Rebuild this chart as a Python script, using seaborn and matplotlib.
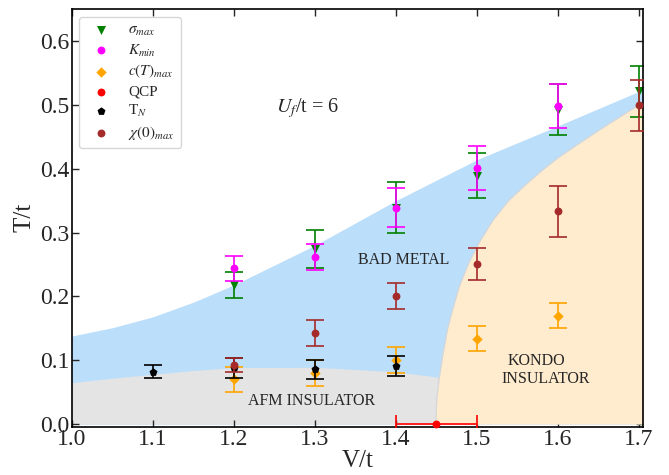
import numpy as np
import pandas as pd
import matplotlib
matplotlib.use("Agg")
import matplotlib.pyplot as plt
import seaborn as sns

# ---------------- data ----------------
sigma_V = [1.2, 1.3, 1.4, 1.5, 1.6, 1.7]
sigma_T = [0.218, 0.274, 0.339, 0.389, 0.492, 0.521]
sigma_err = [0.02, 0.03, 0.04, 0.035, 0.04, 0.04]

kmin_V = [1.2, 1.3, 1.4, 1.5, 1.6]
kmin_T = [0.244, 0.262, 0.339, 0.401, 0.498]
kmin_err = [0.02, 0.02, 0.03, 0.035, 0.035]

cT_V = [1.2, 1.3, 1.4, 1.5, 1.6]
cT_T = [0.070, 0.080, 0.100, 0.134, 0.170]
cT_err = [0.02, 0.02, 0.02, 0.02, 0.02]

qcp_V = [1.45]
qcp_T = [0.0]
qcp_xerr = [0.05]

TN_V = [1.1, 1.2, 1.3, 1.4]
TN_T = [0.082, 0.088, 0.086, 0.091]
TN_err = [0.01, 0.015, 0.015, 0.015]

chi_V = [1.2, 1.3, 1.4, 1.5, 1.6, 1.7]
chi_T = [0.092, 0.143, 0.201, 0.250, 0.333, 0.499]
chi_err = [0.011, 0.02, 0.02, 0.025, 0.04, 0.04]

# phase boundaries
metal_V = [0.99, 1.0, 1.05, 1.1, 1.15, 1.2, 1.3, 1.4, 1.5, 1.6, 1.7, 1.71]
metal_T = [0.136, 0.138, 0.151, 0.168, 0.191, 0.218, 0.280, 0.350, 0.414, 0.467, 0.521, 0.526]

afm_V = [0.99, 1.0, 1.05, 1.1, 1.15, 1.2, 1.3, 1.4, 1.455, 1.46]
afm_T = [0.064, 0.065, 0.072, 0.078, 0.084, 0.0885, 0.089, 0.082, 0.073, 0.0]

kondo_T = [0.0, 0.04, 0.075, 0.11, 0.148, 0.18, 0.215, 0.253, 0.285, 0.32, 0.35,
           0.375, 0.397, 0.417, 0.443, 0.468, 0.488, 0.50, 0.508]
kondo_V = [1.449, 1.4505, 1.4537, 1.458, 1.4635, 1.470, 1.478, 1.49, 1.503, 1.52, 1.539,
           1.56, 1.58, 1.60, 1.63, 1.66, 1.685, 1.70, 1.71]

# ---------------- style ----------------
sns.set_style("ticks")
plt.rcParams['font.family'] = ['Liberation Serif', 'DejaVu Serif']
plt.rcParams['mathtext.fontset'] = 'stix'

fig = plt.figure(figsize=(6.69, 4.75), dpi=100)
ax = fig.add_axes([0.1076, 0.1017, 0.8535, 0.8794])

# regions
ax.fill_between(metal_V, 0, metal_T, color='#bbdefb', lw=0, zorder=0)
ax.fill_between(afm_V, 0, afm_T, color='#e4e4e4', lw=0, zorder=0.5)
ax.fill_betweenx(kondo_T, kondo_V, 1.72, color='#ffebcd', lw=0, zorder=0.6)
ax.plot(kondo_V, kondo_T, color='#d6d6d6', lw=0.8, zorder=0.7)

cap = 6.5
series = [
    (sigma_V, sigma_T, sigma_err, None, 'v', 'green', r'$\sigma_{max}$'),
    (kmin_V, kmin_T, kmin_err, None, 'o', 'magenta', r'$K_{min}$'),
    (cT_V, cT_T, cT_err, None, 'D', 'orange', r'$c(T)_{max}$'),
    (qcp_V, qcp_T, None, qcp_xerr, 'o', 'red', 'QCP'),
    (TN_V, TN_T, TN_err, None, 'p', 'black', r'T$_N$'),
    (chi_V, chi_T, chi_err, None, 'o', 'brown', r'$\chi(0)_{max}$'),
]
sizes = {'v': 42, 'o': 32, 'D': 28, 'p': 36}
for i, (V, T, yerr, xerr, mk, col, lab) in enumerate(series):
    ax.errorbar(V, T, yerr=yerr, xerr=xerr, fmt='none', ecolor=col,
                elinewidth=1.2, capsize=cap, capthick=1.2, zorder=2 + i)
    df = pd.DataFrame({'V': V, 'T': T})
    sns.scatterplot(data=df, x='V', y='T', marker=mk, color=col, s=sizes[mk],
                    linewidth=0, label=lab, ax=ax, zorder=2.5 + i, clip_on=False)

ax.text(1.291, 0.495, r'$U_f$/t = 6', fontsize=14.5, ha='center', va='center')
ax.text(1.409, 0.257, 'BAD METAL', fontsize=11.5, ha='center', va='center')
ax.text(1.296, 0.0366, 'AFM INSULATOR', fontsize=11.5, ha='center', va='center')
ax.text(1.573, 0.099, 'KONDO', fontsize=11.5, ha='center', va='center')
ax.text(1.585, 0.070, 'INSULATOR', fontsize=11.5, ha='center', va='center')

ax.set_xlim(1.0, 1.705)
ax.set_ylim(-0.004, 0.65)
ax.set_xticks(np.arange(1.0, 1.71, 0.1))
ax.set_yticks(np.arange(0.0, 0.61, 0.1))
ax.set_xticklabels([f"{v:.1f}" for v in np.arange(1.0, 1.71, 0.1)])
ax.set_yticklabels([f"{v:.1f}" for v in np.arange(0.0, 0.61, 0.1)])
ax.tick_params(direction='in', top=True, right=True, labelsize=17, length=5, width=1, pad=2)
for s in ax.spines.values():
    s.set_linewidth(1.2)
    s.set_color('black')
ax.set_xlabel('V/t', fontsize=18, labelpad=0)
ax.set_ylabel('T/t', fontsize=18, labelpad=3)

leg = ax.legend(loc='upper left', bbox_to_anchor=(0.0128, 0.981), borderaxespad=0,
                fontsize=11, frameon=True, labelspacing=0.3)
leg.get_frame().set_edgecolor('#cccccc')

fig.savefig('out.png', dpi=100)
